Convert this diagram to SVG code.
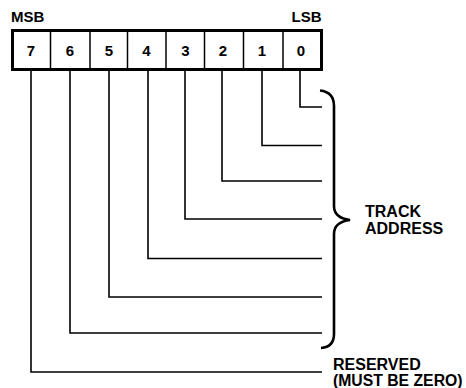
<svg xmlns="http://www.w3.org/2000/svg" width="466" height="388" viewBox="0 0 466 388">
<style>
text{font-family:"Liberation Sans",Arial,sans-serif;font-weight:bold;fill:#000}
.lbl{font-size:15px}
.dig{font-size:15px;text-anchor:middle}
.note{font-size:16px}
.w{fill:none;stroke:#000;stroke-width:1.6}
.div{stroke:#000;stroke-width:1.5}
</style>
<rect width="466" height="388" fill="#fff"/>
<g id="register">
<rect x="12.5" y="30.5" width="309" height="39" fill="#fff" stroke="#000" stroke-width="3"/>
<line class="div" x1="50.5" y1="30" x2="50.5" y2="70"/>
<line class="div" x1="90" y1="30" x2="90" y2="70"/>
<line class="div" x1="127.5" y1="30" x2="127.5" y2="70"/>
<line class="div" x1="166" y1="30" x2="166" y2="70"/>
<line class="div" x1="204.5" y1="30" x2="204.5" y2="70"/>
<line class="div" x1="243.5" y1="30" x2="243.5" y2="70"/>
<line class="div" x1="283" y1="30" x2="283" y2="70"/>
<text class="dig" x="31" y="56">7</text>
<text class="dig" x="70" y="56">6</text>
<text class="dig" x="109" y="56">5</text>
<text class="dig" x="146.5" y="56">4</text>
<text class="dig" x="185.5" y="56">3</text>
<text class="dig" x="223" y="56">2</text>
<text class="dig" x="262" y="56">1</text>
<text class="dig" x="301" y="56">0</text>
</g>
<g id="msb"><text class="lbl" x="11" y="21.5">MSB</text></g>
<g id="lsb"><text class="lbl" x="291.5" y="21.5">LSB</text></g>
<g id="connectors">
<path class="w" d="M300,71 V107 H322"/>
<path class="w" d="M262,71 V145.5 H322"/>
<path class="w" d="M222,71 V181 H322"/>
<path class="w" d="M185,71 V219 H322"/>
<path class="w" d="M148,71 V258.5 H322"/>
<path class="w" d="M109,71 V297 H322"/>
<path class="w" d="M70,71 V333 H322"/>
<path class="w" d="M31,71 V372 H322"/>
</g>
<g id="brace">
<path d="M320,90.5 Q334,92 334,106 L334,206 Q334,218 350,220 Q334,222 334,234 L334,334 Q334,347 321,348" fill="none" stroke="#000" stroke-width="2.6"/>
</g>
<g id="track-address">
<text class="note" x="365" y="216.5">TRACK</text>
<text class="note" x="365" y="234">ADDRESS</text>
</g>
<g id="reserved">
<text class="note" x="333" y="369.5">RESERVED</text>
<text class="note" x="333" y="385.5" textLength="129.5" lengthAdjust="spacingAndGlyphs">(MUST BE ZERO)</text>
</g>
</svg>
